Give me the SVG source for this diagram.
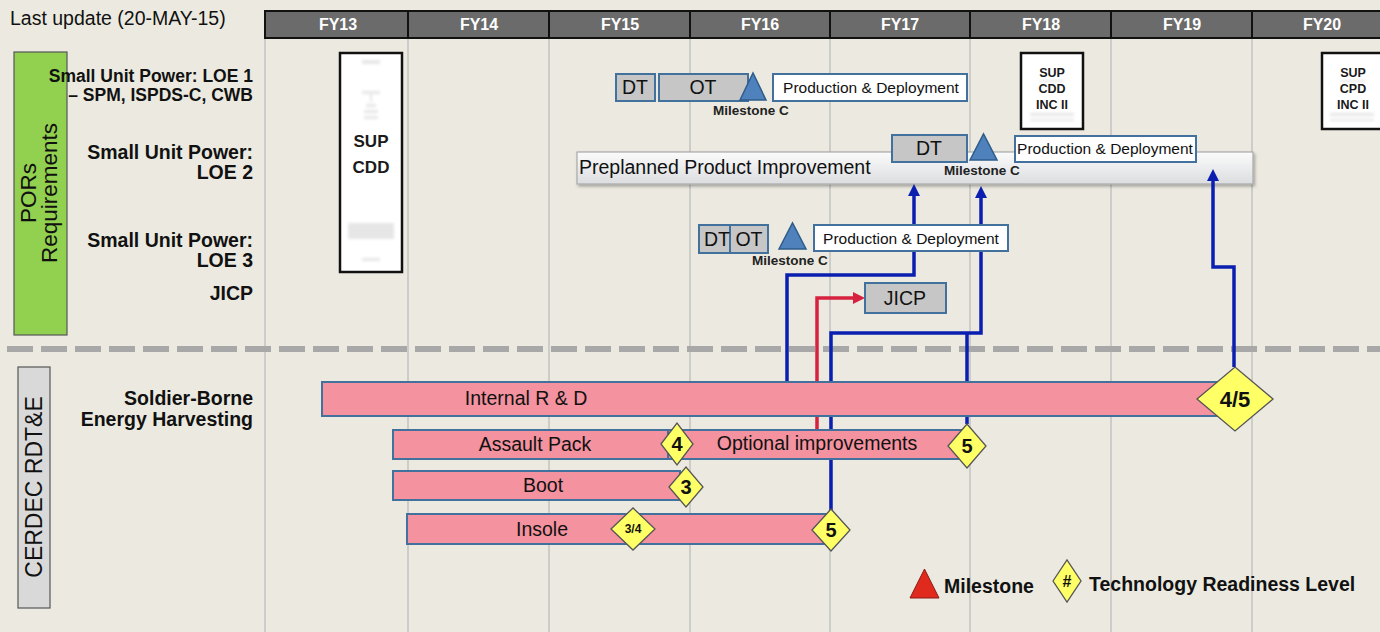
<svg xmlns="http://www.w3.org/2000/svg" width="1380" height="632" viewBox="0 0 1380 632">
<defs>
<style>
text{font-family:"Liberation Sans",Arial,sans-serif;fill:#111}
.lbl{font-size:19.5px;font-weight:bold;text-anchor:end}
.lbl1{font-size:17.5px;font-weight:bold;text-anchor:end}
.hdr{font-family:"Liberation Sans Narrow","Liberation Sans",sans-serif;font-size:16px;font-weight:bold;fill:#fff;text-anchor:middle}
.grid{stroke:#c2c2c2;stroke-width:1.5}
.gbox{fill:#c6c6c6;stroke:#41719c;stroke-width:2}
.wbox{fill:#fff;stroke:#41719c;stroke-width:2}
.btxt{font-size:19.5px;text-anchor:middle}
.pd{font-size:15.5px;text-anchor:middle}
.tri{fill:#4f81bd;stroke:#2e5c8a;stroke-width:1.5}
.ms{font-size:13.5px;font-weight:bold;text-anchor:middle;fill:#222}
.bar{fill:#f4929f;stroke:#41719c;stroke-width:2}
.bartxt{font-size:19.5px;text-anchor:middle}
.dia{fill:#ffff66;stroke:#555;stroke-width:1.3}
.dtxt{font-weight:bold;text-anchor:middle}
.doc{fill:#fff;stroke:#111;stroke-width:2.5}
.doctxt{font-weight:bold;text-anchor:middle;fill:#1a1a1a}
.blur{fill:#e6e6e6}
.blue{fill:none;stroke:#0a1fb0;stroke-width:3.5;stroke-linejoin:miter}
.red{fill:none;stroke:#d6223f;stroke-width:3.5}
</style>
<marker id="ab" viewBox="0 0 12 12" refX="3" refY="6" markerWidth="12" markerHeight="12" markerUnits="userSpaceOnUse" orient="auto"><path d="M0,0 L12,6 L0,12 z" fill="#0a1fb0"/></marker>
<marker id="ar" viewBox="0 0 12 12" refX="3" refY="6" markerWidth="12" markerHeight="12" markerUnits="userSpaceOnUse" orient="auto"><path d="M0,0 L12,6 L0,12 z" fill="#d6223f"/></marker>
<linearGradient id="ppi" x1="0" y1="0" x2="0" y2="1"><stop offset="0" stop-color="#fbfbfb"/><stop offset="1" stop-color="#dcdde0"/></linearGradient>
<filter id="sh" x="-5%" y="-30%" width="110%" height="170%"><feDropShadow dx="1.5" dy="2" stdDeviation="1.5" flood-color="#000" flood-opacity="0.3"/></filter>
<filter id="bl"><feGaussianBlur stdDeviation="1.5"/></filter>
</defs>

<rect x="0" y="0" width="1380" height="632" fill="#ECEAE0"/>

<g id="grid">
<line class="grid" x1="265" y1="38" x2="265" y2="632"/>
<line class="grid" x1="408" y1="38" x2="408" y2="632"/>
<line class="grid" x1="549" y1="38" x2="549" y2="632"/>
<line class="grid" x1="690" y1="38" x2="690" y2="632"/>
<line class="grid" x1="830" y1="38" x2="830" y2="632"/>
<line class="grid" x1="970" y1="38" x2="970" y2="632"/>
<line class="grid" x1="1111" y1="38" x2="1111" y2="632"/>
<line class="grid" x1="1252" y1="38" x2="1252" y2="632"/>
</g>

<g id="header">
<rect x="265" y="11" width="1120" height="27" fill="#6b6b6b" stroke="#111" stroke-width="2"/>
<g stroke="#111" stroke-width="2">
<line x1="408" y1="11" x2="408" y2="38"/><line x1="549" y1="11" x2="549" y2="38"/><line x1="690" y1="11" x2="690" y2="38"/><line x1="830" y1="11" x2="830" y2="38"/><line x1="970" y1="11" x2="970" y2="38"/><line x1="1111" y1="11" x2="1111" y2="38"/><line x1="1252" y1="11" x2="1252" y2="38"/>
</g>
<text class="hdr" x="338" y="30">FY13</text>
<text class="hdr" x="479" y="30">FY14</text>
<text class="hdr" x="620" y="30">FY15</text>
<text class="hdr" x="760" y="30">FY16</text>
<text class="hdr" x="900" y="30">FY17</text>
<text class="hdr" x="1041" y="30">FY18</text>
<text class="hdr" x="1182" y="30">FY19</text>
<text class="hdr" x="1322" y="30">FY20</text>
</g>

<text x="10" y="25" font-size="19.5" fill="#222">Last update (20-MAY-15)</text>

<line id="separator" x1="7" y1="349" x2="1380" y2="349" stroke="#a8a8a8" stroke-width="6" stroke-dasharray="26 8"/>

<g id="pors">
<rect x="14" y="52" width="53" height="283" fill="#92d050" stroke="#555" stroke-width="1.2"/>
<text transform="translate(36,193) rotate(-90)" font-size="22.5" text-anchor="middle">PORs</text>
<text transform="translate(57,193) rotate(-90)" font-size="22.5" text-anchor="middle">Requirements</text>
</g>

<g id="cerdec">
<rect x="18" y="367" width="32" height="241" fill="#d9d9d9" stroke="#555" stroke-width="1.2"/>
<text transform="translate(42,487) rotate(-90)" font-size="23" text-anchor="middle">CERDEC RDT&amp;E</text>
</g>

<g id="row-labels">
<text class="lbl1" x="253" y="82">Small Unit Power: LOE 1</text>
<text class="lbl1" x="253" y="101">– SPM, ISPDS-C, CWB</text>
<text class="lbl" x="253" y="159">Small Unit Power:</text>
<text class="lbl" x="253" y="179">LOE 2</text>
<text class="lbl" x="253" y="247">Small Unit Power:</text>
<text class="lbl" x="253" y="267">LOE 3</text>
<text class="lbl" x="253" y="300">JICP</text>
<text class="lbl" x="253" y="405">Soldier-Borne</text>
<text class="lbl" x="253" y="426">Energy Harvesting</text>
</g>

<g id="sup-cdd">
<rect class="doc" x="340" y="53" width="62" height="219"/>
<g class="blur" filter="url(#bl)">
<rect x="362" y="60" width="18" height="4"/>
<rect x="362" y="91" width="18" height="3"/>
<rect x="370" y="94" width="2" height="8"/>
<rect x="366" y="104" width="10" height="3"/>
<rect x="364" y="110" width="14" height="3"/>
<rect x="364" y="116" width="14" height="3"/>
<rect x="348" y="223" width="46" height="16"/>
<rect x="362" y="258" width="18" height="3"/>
</g>
<text class="doctxt" x="371" y="147" font-size="17">SUP</text>
<text class="doctxt" x="371" y="173" font-size="17">CDD</text>
</g>

<g id="sup-cdd-inc2">
<rect class="doc" x="1021" y="53" width="62" height="76"/>
<g class="blur" filter="url(#bl)"><rect x="1030" y="113" width="44" height="3"/><rect x="1030" y="119" width="44" height="2"/><rect x="1040" y="80" width="24" height="2"/></g>
<text class="doctxt" x="1052" y="77" font-size="12.5">SUP</text>
<text class="doctxt" x="1052" y="93" font-size="12.5">CDD</text>
<text class="doctxt" x="1052" y="109" font-size="12.5">INC II</text>
</g>

<g id="sup-cpd-inc2">
<rect class="doc" x="1322" y="53" width="62" height="76"/>
<g class="blur" filter="url(#bl)"><rect x="1330" y="113" width="44" height="3"/><rect x="1330" y="119" width="44" height="2"/><rect x="1341" y="80" width="24" height="2"/></g>
<text class="doctxt" x="1353" y="77" font-size="12.5">SUP</text>
<text class="doctxt" x="1353" y="93" font-size="12.5">CPD</text>
<text class="doctxt" x="1353" y="109" font-size="12.5">INC II</text>
</g>

<g id="ppi">
<rect x="577" y="152" width="676" height="32" fill="url(#ppi)" stroke="#a8a8a8" stroke-width="1.2" filter="url(#sh)"/>
<text x="579" y="174" font-size="19.5">Preplanned Product Improvement</text>
</g>

<g id="connectors">
<path class="blue" d="M787,381 V275 H914 V193" marker-end="url(#ab)"/>
<path class="blue" d="M831,512 V333 H981 V195" marker-end="url(#ab)"/>
<path class="blue" d="M967,424 V333"/>
<path class="blue" d="M1234,367 V267 H1213 V178" marker-end="url(#ab)"/>
<path class="red" d="M817,430 V298 H856" marker-end="url(#ar)"/>
</g>

<g id="loe1">
<rect class="gbox" x="616" y="74" width="39" height="27"/>
<text class="btxt" x="635" y="94">DT</text>
<rect class="gbox" x="659" y="74" width="89" height="27"/>
<text class="btxt" x="703" y="94">OT</text>
<polygon class="tri" points="740,100 753,73 766,100"/>
<text class="ms" x="751" y="115">Milestone C</text>
<rect class="wbox" x="773" y="74" width="194" height="27"/>
<text class="pd" x="871" y="93">Production &amp; Deployment</text>
</g>

<g id="loe2">
<rect class="gbox" x="892" y="135" width="75" height="27"/>
<text class="btxt" x="929" y="155">DT</text>
<polygon class="tri" points="970,160 983.5,134 997,160"/>
<text class="ms" x="982" y="175">Milestone C</text>
<rect class="wbox" x="1015" y="136" width="181" height="26"/>
<text class="pd" x="1105" y="154">Production &amp; Deployment</text>
</g>

<g id="loe3">
<rect class="gbox" x="699" y="225" width="38" height="28"/>
<rect class="gbox" x="730" y="225" width="38" height="28"/>
<text class="btxt" x="717" y="246">DT</text>
<text class="btxt" x="749" y="246">OT</text>
<polygon class="tri" points="779,249 792.5,223 806,249"/>
<text class="ms" x="790" y="265">Milestone C</text>
<rect class="wbox" x="814" y="225" width="194" height="26"/>
<text class="pd" x="911" y="244">Production &amp; Deployment</text>
</g>

<g id="jicp">
<rect class="gbox" x="865" y="283" width="81" height="30"/>
<text class="btxt" x="905" y="305">JICP</text>
</g>

<g id="internal-rd">
<rect class="bar" x="322" y="382" width="900" height="34"/>
<text class="bartxt" x="526" y="405">Internal R &amp; D</text>
</g>
<g id="assault-pack">
<rect class="bar" x="393" y="430" width="277" height="29"/>
<text class="bartxt" x="535" y="451">Assault Pack</text>
</g>
<g id="optional-improvements">
<rect class="bar" x="668" y="430" width="299" height="29"/>
<text class="bartxt" x="817" y="450">Optional improvements</text>
</g>
<g id="boot">
<rect class="bar" x="393" y="471" width="287" height="29"/>
<text class="bartxt" x="543" y="492">Boot</text>
</g>
<g id="insole">
<rect class="bar" x="407" y="514" width="424" height="30"/>
<text class="bartxt" x="542" y="536">Insole</text>
</g>

<g id="trl-45">
<polygon class="dia" points="1197,399 1235,367 1273,399 1235,431"/>
<text class="dtxt" x="1235" y="407" font-size="22">4/5</text>
</g>
<g id="trl-5-opt">
<polygon class="dia" points="948,446 967,424 986,446 967,468"/>
<text class="dtxt" x="967" y="453" font-size="20">5</text>
</g>
<g id="trl-4">
<polygon class="dia" points="661,444 677,423 693,444 677,465"/>
<text class="dtxt" x="677" y="451" font-size="20">4</text>
</g>
<g id="trl-3">
<polygon class="dia" points="669,487 686,467 703,487 686,507"/>
<text class="dtxt" x="686" y="494" font-size="20">3</text>
</g>
<g id="trl-34">
<polygon class="dia" points="611,529 633,508 655,529 633,550"/>
<text class="dtxt" x="633" y="533" font-size="12">3/4</text>
</g>
<g id="trl-5-insole">
<polygon class="dia" points="812,530 831,509 850,530 831,551"/>
<text class="dtxt" x="831" y="537" font-size="20">5</text>
</g>

<g id="legend">
<polygon points="910,598 924.5,569 939,598" fill="#e02a1e" stroke="#8b1a12" stroke-width="1"/>
<text x="944" y="593" font-size="19.5" font-weight="bold">Milestone</text>
<polygon class="dia" points="1053,581 1067,560 1081,581 1067,602"/>
<text class="dtxt" x="1067" y="587" font-size="16">#</text>
<text x="1089" y="591" font-size="19.5" font-weight="bold">Technology Readiness Level</text>
</g>
</svg>
